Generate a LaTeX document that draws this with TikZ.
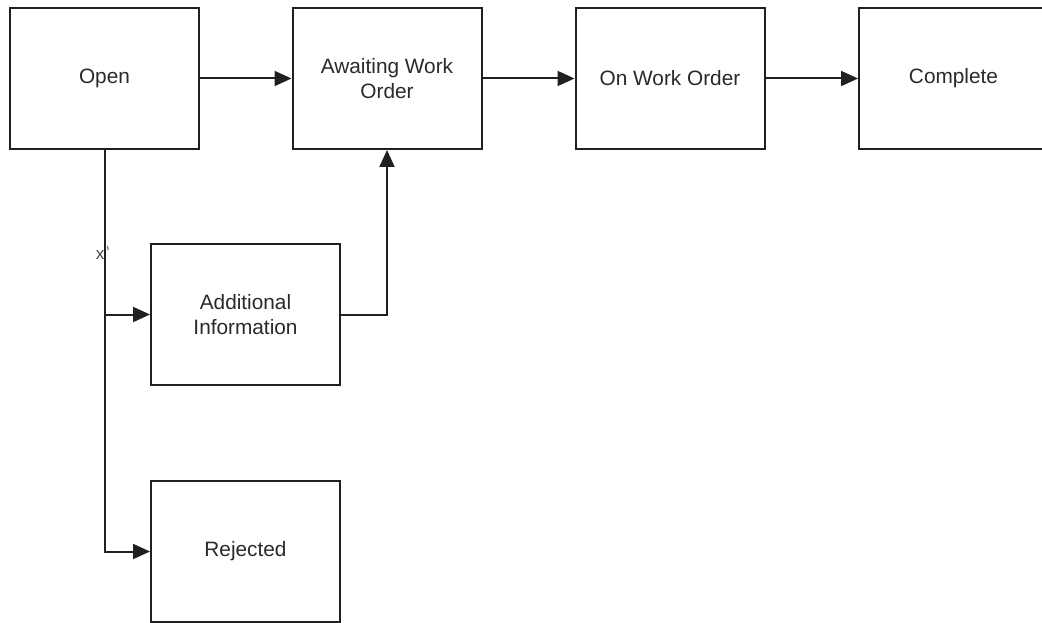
\documentclass[tikz,border=0pt]{standalone}
\usepackage{fontspec}
\setmainfont{Liberation Sans}
\usepackage{xcolor}
\usetikzlibrary{arrows, arrows.meta}

\definecolor{linegray}{HTML}{202020}
\definecolor{textgray}{HTML}{2A2A2A}

\tikzset{
	statebox/.style={rectangle, draw=linegray, line width=2pt, fill=white,
		minimum width=189pt, minimum height=141pt, inner sep=0pt,
		align=center, text=textgray, font=\fontsize{20.8}{25}\selectfont},
	flow/.style={draw=linegray, line width=2pt, -{Triangle[length=17pt, width=15pt]}}
}

\begin{document}
\begin{tikzpicture}[x=1pt, y=-1pt]
			\useasboundingbox (0,0) rectangle (1042,623);
			\clip (0,0) rectangle (1042,623);
			\node[statebox] (open) at (104.5,78.5){Open};
			\node[statebox] (awaiting) at (387,78.5){Awaiting Work\\Order};
			\node[statebox] (onorder) at (670,78.5){On Work Order};
			\node[statebox] (complete) at (953.5,78.5){Complete};
			\node[statebox] (addinfo) at (245.5,314.5){Additional\\Information};
			\node[statebox] (rejected) at (245.5,551.5){Rejected};
			% main line along the top
			\draw[flow] (open) -- (awaiting);
			\draw[flow] (awaiting) -- (onorder);
			\draw[flow] (onorder) -- (complete);
			% branches off the bottom of Open
			\draw[flow] (open.south) |- (addinfo.west);
			\draw[flow] (open.south) |- (rejected.west);
			\draw[flow] (addinfo.east) -| (awaiting.south);
			% small mark on the branch line
			\node[text=textgray!85, font=\fontsize{17}{17}\selectfont, inner sep=0pt] (xmark) at (100,255){x};
			\coordinate (tick) at (107.5,246);
			\draw[textgray!70, line width=1pt] (tick) -- ++(0.8,4);
		\end{tikzpicture}
\end{document}
